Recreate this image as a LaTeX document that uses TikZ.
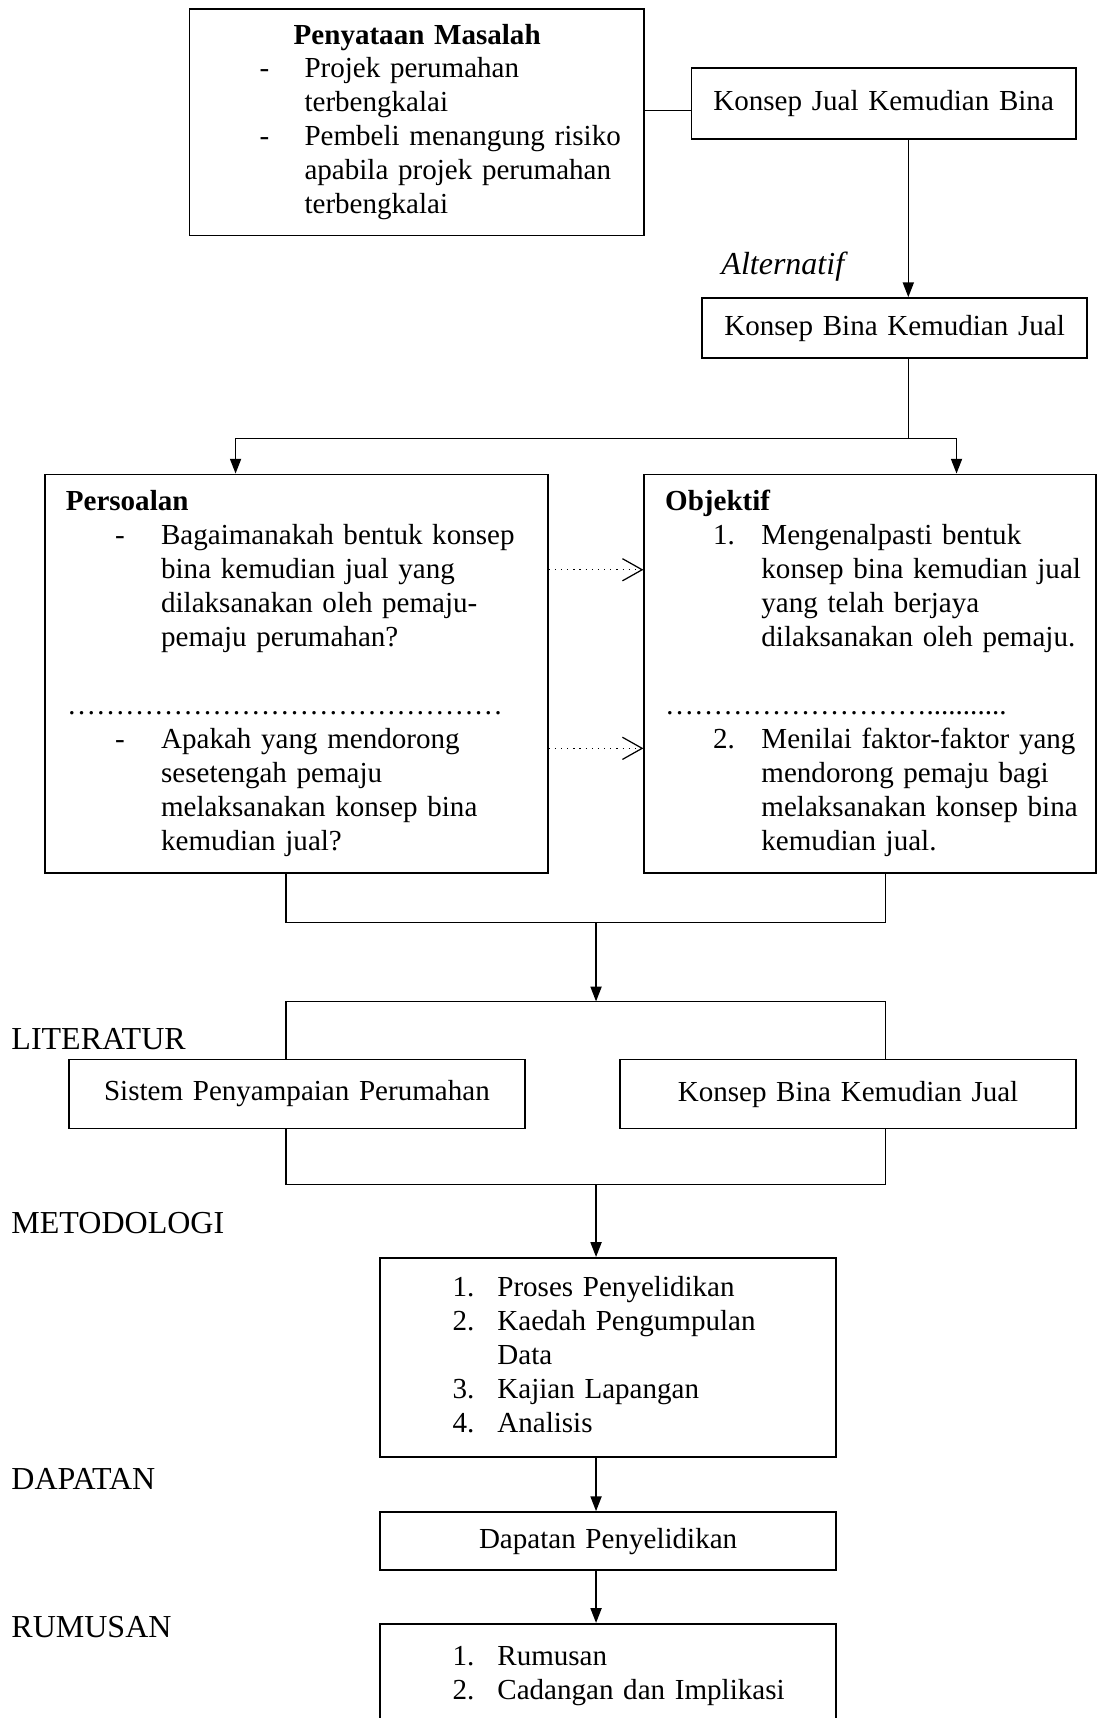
\documentclass[tikz,border=0pt]{standalone}
\usepackage{fontspec}
\setmainfont{Liberation Serif}
\usetikzlibrary{arrows.meta}

\begin{document}
\begin{tikzpicture}[x=0.445pt, y=-0.445pt, font=\fontsize{11.8}{13.8}\selectfont,
        box/.style 2 args={draw, line width=0.7pt, inner sep=0pt, text width=#1*0.445pt, minimum height=#2*0.445pt, align=left},
        cbox/.style 2 args={box={#1}{#2}, align=center},
        link/.style={line width=0.6pt},
        arr/.style={line width=0.6pt, -{Triangle[length=6pt, width=4.5pt]}},
        dotarr/.style={line width=0.5pt, dotted, -{Straight Barb[length=8pt, width=9pt, line width=0.5pt]}},
        lbl/.style={anchor=west, inner sep=0pt, font=\fontsize{13}{15}\selectfont}]

        \useasboundingbox (0,0) rectangle (1001,1568);

        \node[box={415}{207}] (masalah) at (380.5,111.5) {%
            \begin{tabular}{@{\hspace{28.5pt}}p{18.2pt}@{}l@{}}
            \multicolumn{2}{@{\hspace{42.3pt}}l@{}}{\textbf{Penyataan Masalah}}\\
            - & Projek perumahan\\
              & terbengkalai\\
            - & Pembeli menangung risiko\\
              & apabila projek perumahan\\
              & terbengkalai
            \end{tabular}};
        \node[cbox={351}{65}] (jualbina) at (806.5,94.5) {Konsep Jual Kemudian Bina};
        \node[cbox={351}{55}] (binajual) at (816.5,299.5) {Konsep Bina Kemudian Jual};
        \node[lbl] (alt) at (658,243) {\textit{Alternatif}};

        \node[box={459}{364}] (persoalan) at (270.5,615) {%
            \begin{tabular}{@{\hspace{28.5pt}}p{18.7pt}@{}l@{}}
            \multicolumn{2}{@{\hspace{8.5pt}}l@{}}{\textbf{Persoalan}}\\
            - & Bagaimanakah bentuk konsep\\
              & bina kemudian jual yang\\
              & dilaksanakan oleh pemaju-\\
              & pemaju perumahan?\\
              & \\
            \multicolumn{2}{@{\hspace{9pt}}l@{}}{………………………………………}\\
            - & Apakah yang mendorong\\
              & sesetengah pemaju\\
              & melaksanakan konsep bina\\
              & kemudian jual?
            \end{tabular}};
        \node[box={412}{364}] (objektif) at (794,615) {%
            \begin{tabular}{@{\hspace{28pt}}p{19.6pt}@{}l@{}}
            \multicolumn{2}{@{\hspace{8.5pt}}l@{}}{\textbf{Objektif}}\\
            1. & Mengenalpasti bentuk\\
               & konsep bina kemudian jual\\
               & yang telah berjaya\\
               & dilaksanakan oleh pemaju.\\
               & \\
            \multicolumn{2}{@{\hspace{8.5pt}}l@{}}{………………………...........}\\
            2. & Menilai faktor-faktor yang\\
               & mendorong pemaju bagi\\
               & melaksanakan konsep bina\\
               & kemudian jual.
            \end{tabular}};

        \node[lbl] (literatur) at (10,948) {LITERATUR};
        \node[cbox={416}{63}] (sistem) at (271,998.5) {Sistem Penyampaian Perumahan};
        \node[cbox={416}{63}] (konsep) at (774,998.5) {Konsep Bina Kemudian Jual};

        \node[lbl] (metodologi) at (10,1116) {METODOLOGI};
        \node[box={416}{182}] (kaedah) at (555,1239) {%
            \begin{tabular}{@{\hspace{29.4pt}}p{18.2pt}@{}l@{}}
            1. & Proses Penyelidikan\\
            2. & Kaedah Pengumpulan\\
               & Data\\
            3. & Kajian Lapangan\\
            4. & Analisis
            \end{tabular}};

        \node[lbl] (dapatanlbl) at (10,1350) {DAPATAN};
        \node[cbox={416}{53}] (dapatan) at (555,1406.5) {Dapatan Penyelidikan};

        \node[lbl] (rumusanlbl) at (10,1485) {RUMUSAN};
        \node[box={416}{95}] (rumusan) at (555,1529.5) {%
            \begin{tabular}{@{\hspace{29.4pt}}p{18.2pt}@{}l@{}}
            1. & Rumusan\\
            2. & Cadangan dan Implikasi
            \end{tabular}};

        \coordinate (forkL) at (215,400);
        \coordinate (forkR) at (873,400);
        \coordinate (joinA) at (544,842);
        \coordinate (joinB) at (544,914);
        \coordinate (joinC) at (544,1081);

        \draw[link] (masalah.east |- 0,101) -- (jualbina.west |- 0,101);
        \draw[arr] (829,0 |- jualbina.south) -- (829,0 |- binajual.north);
        \draw[link] (829,0 |- binajual.south) -- (829,400);
        \draw[link] (forkL) -- (forkR);
        \draw[arr] (forkL) -- (forkL |- persoalan.north);
        \draw[arr] (forkR) -- (forkR |- objektif.north);

        \draw[dotarr] (persoalan.east |- 0,520) -- (objektif.west |- 0,520);
        \draw[dotarr] (persoalan.east |- 0,683) -- (objektif.west |- 0,683);

        \draw[link] (261,0 |- persoalan.south) -- (261,842) -- (808,842) -- (808,0 |- objektif.south);
        \draw[arr] (joinA) -- (joinB);
        \draw[link] (261,0 |- sistem.north) -- (261,914) -- (808,914) -- (808,0 |- konsep.north);
        \draw[link] (261,0 |- sistem.south) -- (261,1081) -- (808,1081) -- (808,0 |- konsep.south);
        \draw[arr] (joinC) -- (joinC |- kaedah.north);
        \draw[arr] (joinC |- kaedah.south) -- (joinC |- dapatan.north);
        \draw[arr] (joinC |- dapatan.south) -- (joinC |- rumusan.north);
\end{tikzpicture}
\end{document}
